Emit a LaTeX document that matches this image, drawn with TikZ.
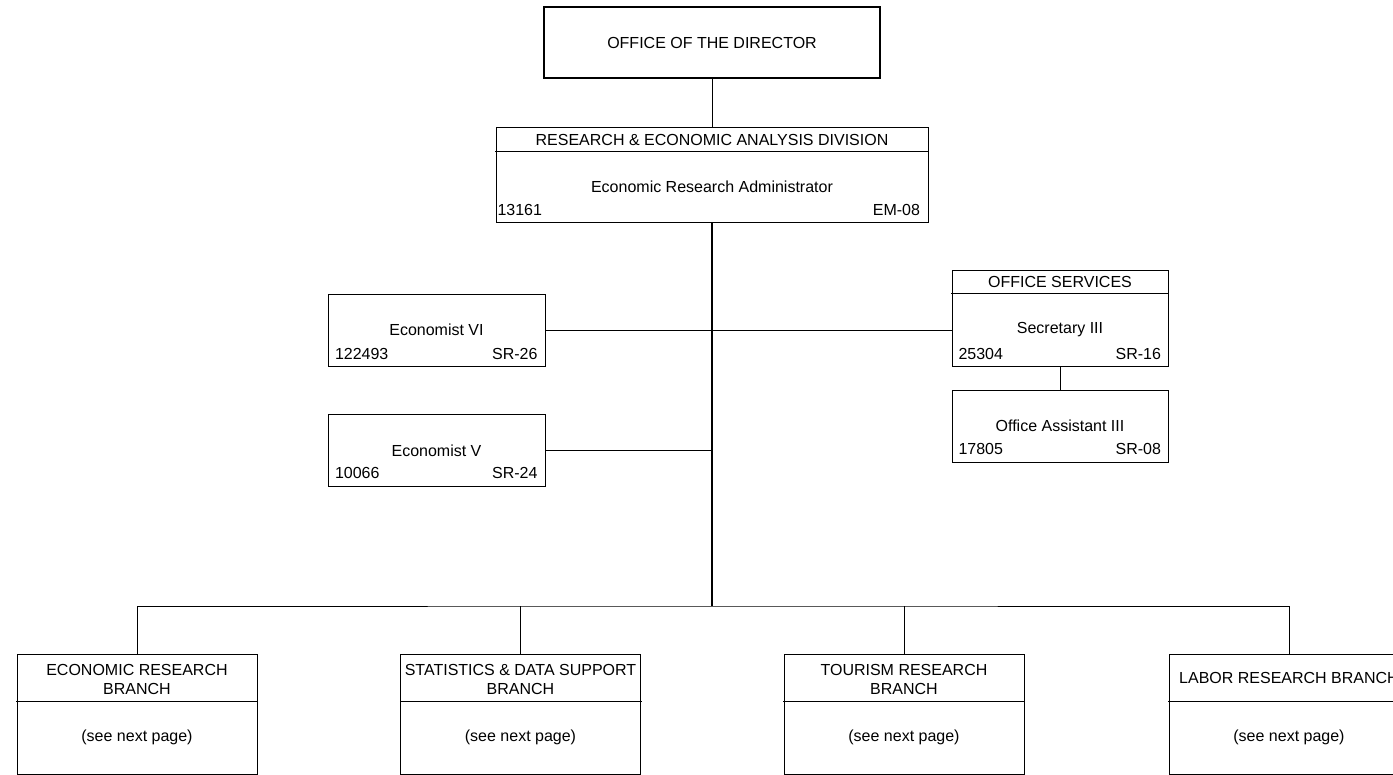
\documentclass[tikz,border=0pt]{standalone}
\usepackage{fontspec}
\setmainfont{Liberation Sans}

\begin{document}
\begin{tikzpicture}[x=0.75pt,y=-0.75pt,line width=0.75pt,line cap=rect,
  font=\fontsize{12}{14.25}\selectfont,
  posbox/.style={draw,rectangle,inner sep=0pt,minimum width=162.75pt,minimum height=54.5pt},
  branchbox/.style={draw,rectangle,inner sep=0pt,minimum width=180pt,minimum height=90pt},
  lbl/.style={inner sep=0pt,align=center},
  num/.style={inner sep=0pt}]
\useasboundingbox (0,0) rectangle (1393,775);
\clip (0,0) rectangle (1393,775);

% top of the chart
\node[draw,rectangle,line width=1.5pt,inner sep=0pt,minimum width=252pt,minimum height=53.25pt]
  (director) at (712,42.5) {};
\node[lbl] (directort) at (712,42.5) {OFFICE OF THE DIRECTOR};

\node[draw,rectangle,inner sep=0pt,minimum width=324pt,minimum height=71.25pt]
  (division) at (712,174.5) {};
\draw ([yshift=-18.75pt]division.north west) -- ([yshift=-18.75pt]division.north east);
\node[lbl] (divisiont) at (712,139.5) {RESEARCH \& ECONOMIC ANALYSIS DIVISION};
\node[lbl] (divisionp) at (712,187) {Economic Research Administrator};
\node[num,anchor=west] (divisionn) at (497,210) {13161};
\node[num,anchor=east] (divisiong) at (920.5,210) {EM-08};

% staff
\node[posbox] (econ6) at (436.5,330.5) {};
\node[lbl] (econ6t) at (436.5,330) {Economist VI};
\node[num,anchor=west] (econ6n) at (334.5,354) {122493};
\node[num,anchor=east] (econ6g) at (538,354) {SR-26};

\node[posbox] (econ5) at (436.5,450.5) {};
\node[lbl] (econ5t) at (436.5,451) {Economist V};
\node[num,anchor=west] (econ5n) at (334.5,473) {10066};
\node[num,anchor=east] (econ5g) at (538,473) {SR-24};

\node[draw,rectangle,inner sep=0pt,minimum width=162pt,minimum height=72pt]
  (offsvc) at (1060,318) {};
\draw ([yshift=-18pt]offsvc.north west) -- ([yshift=-18pt]offsvc.north east);
\node[lbl] (offsvct) at (1060,282) {OFFICE SERVICES};
\node[lbl] (offsvcp) at (1060,330) {Secretary III};
\node[num,anchor=west] (offsvcn) at (958,354) {25304};
\node[num,anchor=east] (offsvcg) at (1161.5,354) {SR-16};

\node[draw,rectangle,inner sep=0pt,minimum width=162pt,minimum height=54pt]
  (offasst) at (1060,426) {};
\node[lbl] (offasstt) at (1060,426) {Office Assistant III};
\node[num,anchor=west] (offasstn) at (958,449) {17805};
\node[num,anchor=east] (offasstg) at (1161.5,449) {SR-08};

% branches
\node[branchbox] (erb) at (137,714) {};
\node[branchbox] (sdb) at (520.5,714) {};
\node[branchbox] (trb) at (904,714) {};
\node[branchbox] (lrb) at (1289,714) {};
\foreach \b in {erb,sdb,trb,lrb}{
  \draw ([yshift=-36pt]\b.north west) -- ([yshift=-36pt]\b.north east);
  \node[lbl] (\b p) at ([yshift=-17.25pt]\b.center) {(see next page)};
}
\node[lbl] (erbt) at (137,679.5) {ECONOMIC RESEARCH\\BRANCH};
\node[lbl] (sdbt) at (520.5,679.5) {STATISTICS \& DATA SUPPORT\\BRANCH};
\node[lbl] (trbt) at (904,679.5) {TOURISM RESEARCH\\BRANCH};
\node[lbl] (lrbt) at (1289,678) {LABOR RESEARCH BRANCH};

% connectors
\coordinate (bus) at (712,606);
\draw (director.south) -- (division.north);
\draw[line width=1.5pt,line cap=butt] (division.south) -- (bus);
\draw (econ6.east) -- (econ6.east -| offsvc.west);
\draw (econ5.east) -- (econ5.east -| division.south);
\draw (offsvc.south) -- (offasst.north);
\draw (erb.north) |- (bus) -| (lrb.north);
\draw (sdb.north) -- (sdb.north |- bus);
\draw (trb.north) -- (trb.north |- bus);
\end{tikzpicture}
\end{document}
